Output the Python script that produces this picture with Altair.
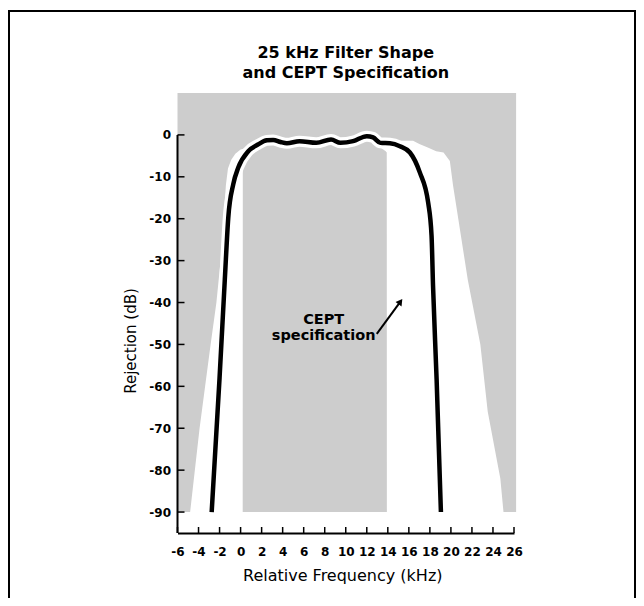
import altair as alt
import pandas as pd

TITLE_LINES = ["25 kHz Filter Shape", "and CEPT Specification"]
X_TITLE = "Relative Frequency (kHz)"
Y_TITLE = "Rejection (dB)"
ANNOT_LINES = ["CEPT", "specification"]

x_ticks = list(range(-6, 27, 2))
y_ticks = list(range(0, -91, -10))

# measured filter response (kHz, dB)
curve_freq = [-2.75, -2.0, -1.5, -1.17, -0.7, -0.22, 0.73, 1.65, 2.5, 3.1, 3.8, 4.4,
              5.6, 7.2, 8.6, 9.5, 10.7, 12.0, 12.6, 13.3, 14.2, 15.15, 16.1, 17.05,
              17.84, 18.16, 18.3, 18.64, 19.05]
curve_rej = [-90, -58, -34.5, -19.7, -11.8, -7.8, -3.9, -2.3, -1.3, -1.2, -1.7, -2.0,
             -1.5, -1.9, -1.1, -1.9, -1.5, -0.3, -0.6, -1.9, -2.0, -2.7, -4.2, -9.0,
             -16.2, -24.1, -36.0, -58.3, -90]

# CEPT mask (shaded area) and its open (white) gaps, read as upper / lower edge per frequency
mask_freq = [-6, 26.2]
mask_rej = [-90, 10]

left_gap_freq = [-4.8, -3.9, -2.85, -2.3, -1.9, -1.6, -1.4, -1.2, -0.9, -0.5, 0.0, 0.2,
                 0.21, 0.35, 0.55, 0.7]
left_gap_top = [-90, -70, -50, -40, -30, -20, -12, -8, -6, -4.5, -3.5, -3.35,
                -3.35, -3.25, -3.15, -3.1]
left_gap_bot = [-90, -90, -90, -90, -90, -90, -90, -90, -90, -90, -90, -90,
                -8, -6, -4.5, -3.1]

right_gap_freq = [13.0, 13.3, 13.8, 13.9, 13.91, 16.4, 17.0, 17.8, 18.6, 19.3, 19.9, 20.2,
                  20.7, 21.6, 22.8, 23.5, 24.7, 25.0]
right_gap_top = [-1.4, -1.4, -1.4, -1.4, -1.4, -1.4, -2.2, -3.0, -3.9, -4.2, -6.2, -12,
                 -20, -34.5, -50, -66, -82, -90]
right_gap_bot = [-2.2, -3.0, -3.9, -4.2, -90, -90, -90, -90, -90, -90, -90, -90,
                 -90, -90, -90, -90, -90, -90]

annot_freq = [7.9, 7.9]
annot_rej = [-45.2, -48.9]
arrow_freq = [12.95, 15.2]
arrow_rej = [-47.5, -39.8]

W = 336.5
H = 440
FONT = "DejaVu Sans"
GRAY = "#cdcdcd"

xs = alt.Scale(domain=[-6, 26], nice=False, zero=False)
ys = alt.Scale(domain=[-95, 10], nice=False, zero=False)
lab = "datum.value < 0 ? '-' + (-datum.value) : '' + datum.value"
xaxis = alt.Axis(values=x_ticks, title=None, grid=False, ticks=False, tickSize=0,
                 domain=True, domainColor="black", domainWidth=2,
                 labelFont=FONT, labelFontWeight="bold", labelFontSize=12,
                 labelColor="black", labelPadding=13, labelExpr=lab,
                 labelFlush=False, labelOverlap=False)
yaxis = alt.Axis(values=y_ticks, title=None, grid=False, ticks=False, tickSize=0,
                 domain=False, labelFont=FONT, labelFontWeight="bold", labelFontSize=12,
                 labelColor="black", labelPadding=7, labelExpr=lab, labelOverlap=False)


def X(f):
    return alt.X(f, scale=xs, axis=xaxis)


def Y(f):
    return alt.Y(f, scale=ys, axis=yaxis)


curve_df = pd.DataFrame({"f": curve_freq, "r": curve_rej, "i": range(len(curve_freq))})
mask_df = pd.DataFrame({"f0": [mask_freq[0]], "f1": [mask_freq[1]],
                        "r0": [mask_rej[0]], "r1": [mask_rej[1]]})
left_df = pd.DataFrame({"f": left_gap_freq, "top": left_gap_top, "bot": left_gap_bot})
right_df = pd.DataFrame({"f": right_gap_freq, "top": right_gap_top, "bot": right_gap_bot})
xt_df = pd.DataFrame({"t": x_ticks})
yt_df = pd.DataFrame({"t": y_ticks})
annot_df = pd.DataFrame({"f": annot_freq, "r": annot_rej, "label": ANNOT_LINES})
arrow_df = pd.DataFrame({"f0": [arrow_freq[0]], "r0": [arrow_rej[0]],
                         "f1": [arrow_freq[1]], "r1": [arrow_rej[1]]})
one = pd.DataFrame({"k": [0]})

gray = alt.Chart(mask_df).mark_rect(color=GRAY).encode(
    x=X("f0:Q"), x2="f1:Q", y=Y("r0:Q"), y2="r1:Q")
left_gap = alt.Chart(left_df).mark_area(orient="vertical", color="white", opacity=1).encode(
    x=X("f:Q"), y=Y("top:Q"), y2="bot:Q")
right_gap = alt.Chart(right_df).mark_area(orient="vertical", color="white", opacity=1).encode(
    x=X("f:Q"), y=Y("top:Q"), y2="bot:Q")
halo = alt.Chart(curve_df).mark_line(color="white", strokeWidth=11, interpolate="monotone").encode(
    x=X("f:Q"), y=Y("r:Q"), order="i:Q")
line = alt.Chart(curve_df).mark_line(color="black", strokeWidth=4.5, interpolate="monotone").encode(
    x=X("f:Q"), y=Y("r:Q"), order="i:Q")

y_domain = alt.Chart(one).mark_rule(color="black", strokeWidth=2).encode(
    x=alt.value(0), y=alt.Y(datum=0, scale=ys), y2=alt.value(H))
x_tick_marks = alt.Chart(xt_df).mark_rule(color="black", strokeWidth=1.5).encode(
    x=X("t:Q"), y=alt.value(H), y2=alt.value(H - 6))
y_tick_marks = alt.Chart(yt_df).mark_rule(color="black", strokeWidth=1.5).encode(
    y=Y("t:Q"), x=alt.value(0), x2=alt.value(7))

annot = alt.Chart(annot_df).mark_text(font=FONT, fontWeight="bold", fontSize=14.5,
                                      align="center", baseline="alphabetic", color="black").encode(
    x=X("f:Q"), y=Y("r:Q"), text="label:N")
arrow = alt.Chart(arrow_df).mark_rule(color="black", strokeWidth=2).encode(
    x=X("f0:Q"), y=Y("r0:Q"), x2="f1:Q", y2="r1:Q")
head = alt.Chart(arrow_df).mark_point(shape="triangle-up", filled=True, size=55, angle=36,
                                      color="black", opacity=1).encode(
    x=X("f1:Q"), y=Y("r1:Q"))

t1 = alt.Chart(one).mark_text(text=TITLE_LINES[0], font=FONT, fontSize=16, fontWeight="bold",
                              align="center", baseline="alphabetic", color="black").encode(
    x=alt.value(W / 2), y=alt.value(-35))
t2 = alt.Chart(one).mark_text(text=TITLE_LINES[1], font=FONT, fontSize=16, fontWeight="bold",
                              align="center", baseline="alphabetic", color="black").encode(
    x=alt.value(W / 2), y=alt.value(-15))
xt = alt.Chart(one).mark_text(text=X_TITLE, font=FONT, fontSize=16, align="center",
                              baseline="alphabetic", color="black").encode(
    x=alt.value(W / 2 - 3), y=alt.value(H + 48))
yt = alt.Chart(one).mark_text(text=Y_TITLE, font=FONT, fontSize=15, align="center",
                              baseline="middle", angle=270, color="black").encode(
    x=alt.value(-47), y=alt.value(248))
frame = alt.Chart(one).mark_rect(fillOpacity=0, stroke="black", strokeWidth=2).encode(
    x=alt.value(-168.5), x2=alt.value(W + 121), y=alt.value(-82), y2=alt.value(H + 150))

chart = alt.layer(
    gray, left_gap, right_gap, halo, line, y_domain, x_tick_marks, y_tick_marks,
    annot, arrow, head, t1, t2, xt, yt, frame
).properties(
    width=W, height=H, autosize="none",
    padding={"left": 169.5, "top": 85, "right": 122, "bottom": 65},
    background="white"
).configure_view(stroke=None)

chart.save("out.html", embed_options={"renderer": "svg", "actions": False})
